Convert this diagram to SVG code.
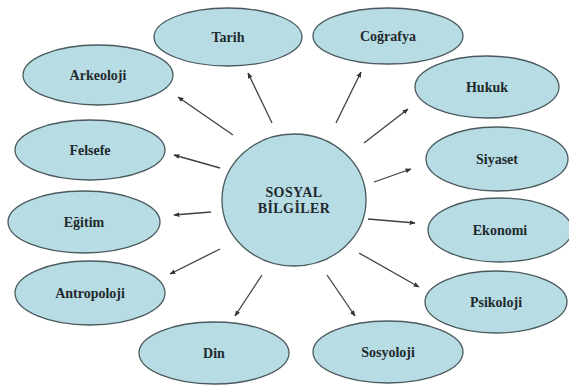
<svg xmlns="http://www.w3.org/2000/svg" width="569" height="385" viewBox="0 0 569 385" font-family="'Liberation Serif', 'Times New Roman', serif">
<defs>
<marker id="ah" viewBox="0 0 10 10" refX="9" refY="5" markerWidth="6" markerHeight="6" markerUnits="userSpaceOnUse" orient="auto">
<path d="M0,1 L10,5 L0,9 z" fill="#333"/>
</marker>
</defs>
<style>
.n ellipse{fill:#b8dce4;stroke:#4a5a5e;stroke-width:1.3}
.n text{font-family:'Liberation Serif','Times New Roman',serif;font-weight:bold;font-size:14px;fill:#1e2a2c;text-anchor:middle}
.c text{font-size:14px;letter-spacing:0.4px}
#connectors line{stroke:#404040;stroke-width:1.3;marker-end:url(#ah)}
</style>
<rect width="569" height="385" fill="#fff"/>
<g id="connectors">
<line x1="272" y1="123" x2="248" y2="73"/>
<line x1="336" y1="123" x2="361" y2="72"/>
<line x1="233" y1="135" x2="178" y2="97"/>
<line x1="364" y1="143" x2="408" y2="109"/>
<line x1="220" y1="168" x2="174" y2="155"/>
<line x1="374" y1="182" x2="411" y2="169"/>
<line x1="211" y1="212" x2="174" y2="215"/>
<line x1="368" y1="219" x2="415" y2="223"/>
<line x1="220" y1="249" x2="170" y2="274"/>
<line x1="359" y1="253" x2="419" y2="287"/>
<line x1="262" y1="275" x2="235" y2="316"/>
<line x1="327" y1="275" x2="355" y2="316"/>
</g>
<g id="center" class="n c">
<ellipse cx="294" cy="200" rx="72" ry="66"/>
<text x="294" y="197">SOSYAL</text>
<text x="294" y="213">BİLGİLER</text>
</g>
<g id="tarih" class="n"><ellipse cx="228" cy="37" rx="74" ry="29"/><text x="228" y="42">Tarih</text></g>
<g id="cografya" class="n"><ellipse cx="388" cy="36" rx="75" ry="28"/><text x="388" y="41">Coğrafya</text></g>
<g id="arkeoloji" class="n"><ellipse cx="98" cy="75" rx="75" ry="30"/><text x="98" y="80">Arkeoloji</text></g>
<g id="hukuk" class="n"><ellipse cx="487" cy="87" rx="72" ry="31"/><text x="487" y="92">Hukuk</text></g>
<g id="felsefe" class="n"><ellipse cx="90" cy="150" rx="75" ry="30"/><text x="90" y="155">Felsefe</text></g>
<g id="siyaset" class="n"><ellipse cx="497" cy="159" rx="71" ry="32"/><text x="497" y="164">Siyaset</text></g>
<g id="egitim" class="n"><ellipse cx="84" cy="222" rx="76" ry="31"/><text x="84" y="227">Eğitim</text></g>
<g id="ekonomi" class="n"><ellipse cx="500" cy="230" rx="72" ry="32"/><text x="500" y="235">Ekonomi</text></g>
<g id="antropoloji" class="n"><ellipse cx="90" cy="293" rx="75" ry="32"/><text x="90" y="298">Antropoloji</text></g>
<g id="psikoloji" class="n"><ellipse cx="496" cy="302" rx="71" ry="31"/><text x="496" y="307">Psikoloji</text></g>
<g id="din" class="n"><ellipse cx="214" cy="353" rx="75" ry="31"/><text x="214" y="358">Din</text></g>
<g id="sosyoloji" class="n"><ellipse cx="388" cy="352" rx="75" ry="31"/><text x="388" y="357">Sosyoloji</text></g>
</svg>
